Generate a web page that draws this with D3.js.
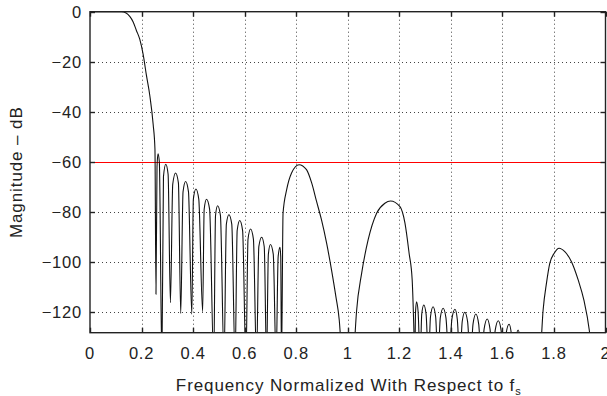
<!DOCTYPE html>
<html>
<head>
<meta charset="utf-8">
<script src="https://cdn.jsdelivr.net/npm/d3@7"></script>
<style>
  body { margin: 0; background: #fff; }
  text { font-family: "Liberation Sans", Arial, Helvetica, sans-serif; fill: #222; }
</style>
</head>
<body>
<svg id="chart" width="607" height="396"></svg>
<script>
// [frequency / fs, magnitude dB], one array per stretch of the curve.
// anything below the axis floor is a null and gets clipped.
const passband = [
  [0, 0], [0.122, 0], [0.140, -0.5], [0.155, -2], [0.167, -4], [0.180, -7.5],
  [0.193, -11], [0.206, -17], [0.219, -25.5], [0.232, -33.5], [0.245, -45], [0.252, -55]
];
const sidelobes = [
  [0.256, -113], [0.260, -62], [0.264, -56.8], [0.269, -60], [0.279, -140],
  [0.285, -66], [0.294, -61], [0.303, -65], [0.312, -116.4],
  [0.321, -69], [0.332, -64.5], [0.343, -68.5], [0.352, -120.7],
  [0.361, -72], [0.371, -67.9], [0.382, -72], [0.395, -121],
  [0.401, -75], [0.411, -70.9], [0.422, -75], [0.437, -120],
  [0.443, -79], [0.452, -75], [0.464, -79], [0.480, -140],
  [0.487, -81.5], [0.495, -77.6], [0.506, -81.5], [0.520, -140],
  [0.529, -85], [0.539, -81.2], [0.550, -85], [0.563, -140],
  [0.571, -87.5], [0.581, -83.5], [0.592, -87.5], [0.605, -140],
  [0.613, -91], [0.623, -86.9], [0.634, -91], [0.646, -140],
  [0.655, -94], [0.666, -90.2], [0.676, -94], [0.685, -140],
  [0.692, -97], [0.700, -93.1], [0.711, -97], [0.722, -140],
  [0.730, -98], [0.737, -94.2], [0.740, -98], [0.743, -140]
];
const imageLobe1 = [
  [0.749, -80.6], [0.763, -71.2], [0.782, -64.5], [0.811, -61.2], [0.840, -63.2],
  [0.860, -68.5], [0.879, -75.9], [0.898, -83.2], [0.918, -92.6], [0.937, -103.3],
  [0.954, -114], [0.967, -123.3], [0.978, -140], [1.000, -170]
];
const imageLobe2 = [
  [1.022, -140], [1.034, -120], [1.054, -104.6], [1.079, -91.3], [1.112, -80.6],
  [1.144, -76.6], [1.166, -75.7], [1.202, -77.9], [1.222, -84.6], [1.238, -96.6],
  [1.250, -107.3], [1.256, -125], [1.260, -140]
];
const ripples = [
  [1.263, -120], [1.267, -116], [1.273, -120], [1.281, -140],
  [1.287, -121], [1.295, -117.3], [1.304, -121], [1.313, -140],
  [1.321, -122], [1.331, -118], [1.341, -122], [1.350, -140],
  [1.359, -122.5], [1.370, -118.6], [1.381, -122.5], [1.393, -140],
  [1.404, -123], [1.416, -119], [1.425, -123], [1.435, -140],
  [1.444, -124], [1.454, -120.2], [1.465, -124], [1.476, -140],
  [1.486, -125], [1.497, -120.9], [1.508, -125], [1.519, -140],
  [1.529, -127], [1.541, -122.9], [1.552, -127], [1.562, -140],
  [1.572, -127.5], [1.584, -123.6], [1.595, -127.5], [1.605, -140],
  [1.614, -129], [1.626, -125], [1.635, -129], [1.644, -140],
  [1.652, -131], [1.661, -127.3], [1.670, -131], [1.680, -140],
  [1.720, -150]
];
const imageLobe3 = [
  [1.745, -140], [1.758, -119.3], [1.771, -108.6], [1.784, -100.6], [1.801, -96.6],
  [1.820, -94.6], [1.842, -96], [1.868, -100], [1.894, -107.3], [1.916, -115.3],
  [1.937, -127.3], [1.950, -140], [2.000, -160]
];
const xTicks = [0, 0.2, 0.4, 0.6, 0.8, 1, 1.2, 1.4, 1.6, 1.8, 2];
const yTicks = [0, -20, -40, -60, -80, -100, -120];
const limitDb = -60;

const svg = d3.select('#chart');
const plot = { left: 90, right: 605.5, top: 11.7, bottom: 332.7 };

const x = d3.scaleLinear().domain([0, 2]).range([plot.left, plot.right]);
const y = d3.scaleLinear().domain([-128.4, 0]).range([plot.bottom, plot.top]);
const crisp = v => Math.round(v) + 0.5;

svg.append('clipPath').attr('id', 'plotClip')
  .append('rect')
    .attr('x', plot.left).attr('y', plot.top)
    .attr('width', plot.right - plot.left).attr('height', plot.bottom - plot.top);

// ---------- dotted grid ----------
const grid = svg.append('g').attr('stroke', '#444').attr('stroke-width', 1)
  .attr('stroke-dasharray', '1,3');
grid.selectAll('line.vx').data(xTicks.slice(1, -1)).enter().append('line')
  .attr('x1', d => crisp(x(d))).attr('x2', d => crisp(x(d)))
  .attr('y1', plot.top).attr('y2', plot.bottom);
grid.selectAll('line.hy').data(yTicks.slice(1)).enter().append('line')
  .attr('y1', d => crisp(y(d))).attr('y2', d => crisp(y(d)))
  .attr('x1', plot.left).attr('x2', plot.right);

// ---------- limit line ----------
svg.append('line')
  .attr('x1', plot.left).attr('x2', plot.right)
  .attr('y1', crisp(y(limitDb))).attr('y2', crisp(y(limitDb)))
  .attr('stroke', '#f00').attr('stroke-width', 1.2);

// ---------- response curve ----------
const pts = [].concat(passband, sidelobes, imageLobe1, imageLobe2, ripples, imageLobe3);
const line = d3.line()
  .x(d => x(d[0])).y(d => y(d[1]))
  .curve(d3.curveMonotoneX);
svg.append('path')
  .attr('clip-path', 'url(#plotClip)')
  .attr('d', line(pts))
  .attr('fill', 'none')
  .attr('stroke', '#111')
  .attr('stroke-width', 1.1)
  .attr('stroke-linejoin', 'round');

// ---------- box + inward ticks ----------
const axes = svg.append('g').attr('stroke', '#222').attr('stroke-width', 1.4).attr('fill', 'none');
axes.append('rect')
  .attr('x', plot.left).attr('y', plot.top)
  .attr('width', plot.right - plot.left).attr('height', plot.bottom - plot.top);
const tk = 5;
xTicks.forEach(t => {
  const px = crisp(x(t));
  axes.append('line').attr('x1', px).attr('x2', px).attr('y1', plot.bottom).attr('y2', plot.bottom - tk);
  axes.append('line').attr('x1', px).attr('x2', px).attr('y1', plot.top).attr('y2', plot.top + tk);
});
yTicks.forEach(t => {
  const py = crisp(y(t));
  axes.append('line').attr('y1', py).attr('y2', py).attr('x1', plot.left).attr('x2', plot.left + tk);
  axes.append('line').attr('y1', py).attr('y2', py).attr('x1', plot.right).attr('x2', plot.right - tk);
});

// ---------- tick labels ----------
const fmtY = d => d < 0 ? '\u2212' + Math.abs(d) : String(d);
svg.selectAll('text.xl').data(xTicks).enter().append('text')
  .attr('x', d => x(d)).attr('y', 358.7)
  .attr('text-anchor', 'middle')
  .attr('font-size', 16.5).attr('letter-spacing', 0.8)
  .text(d => String(d));
svg.selectAll('text.yl').data(yTicks).enter().append('text')
  .attr('x', 82).attr('y', d => y(d) + 6.5)
  .attr('text-anchor', 'end')
  .attr('font-size', 16.5).attr('letter-spacing', 0.8)
  .text(fmtY);

// ---------- axis titles ----------
const xt = svg.append('text')
  .attr('x', (plot.left + plot.right) / 2 + 1).attr('y', 391)
  .attr('text-anchor', 'middle')
  .attr('font-size', 17).attr('letter-spacing', 0.9);
xt.append('tspan').text('Frequency Normalized With Respect to f');
xt.append('tspan').attr('font-size', 11).attr('dy', 3.5).text('s');

svg.append('text')
  .attr('transform', `translate(22,${(plot.top + plot.bottom) / 2}) rotate(-90)`)
  .attr('text-anchor', 'middle')
  .attr('font-size', 17).attr('letter-spacing', 0.9)
  .text('Magnitude \u2013 dB');
</script>
</body>
</html>
